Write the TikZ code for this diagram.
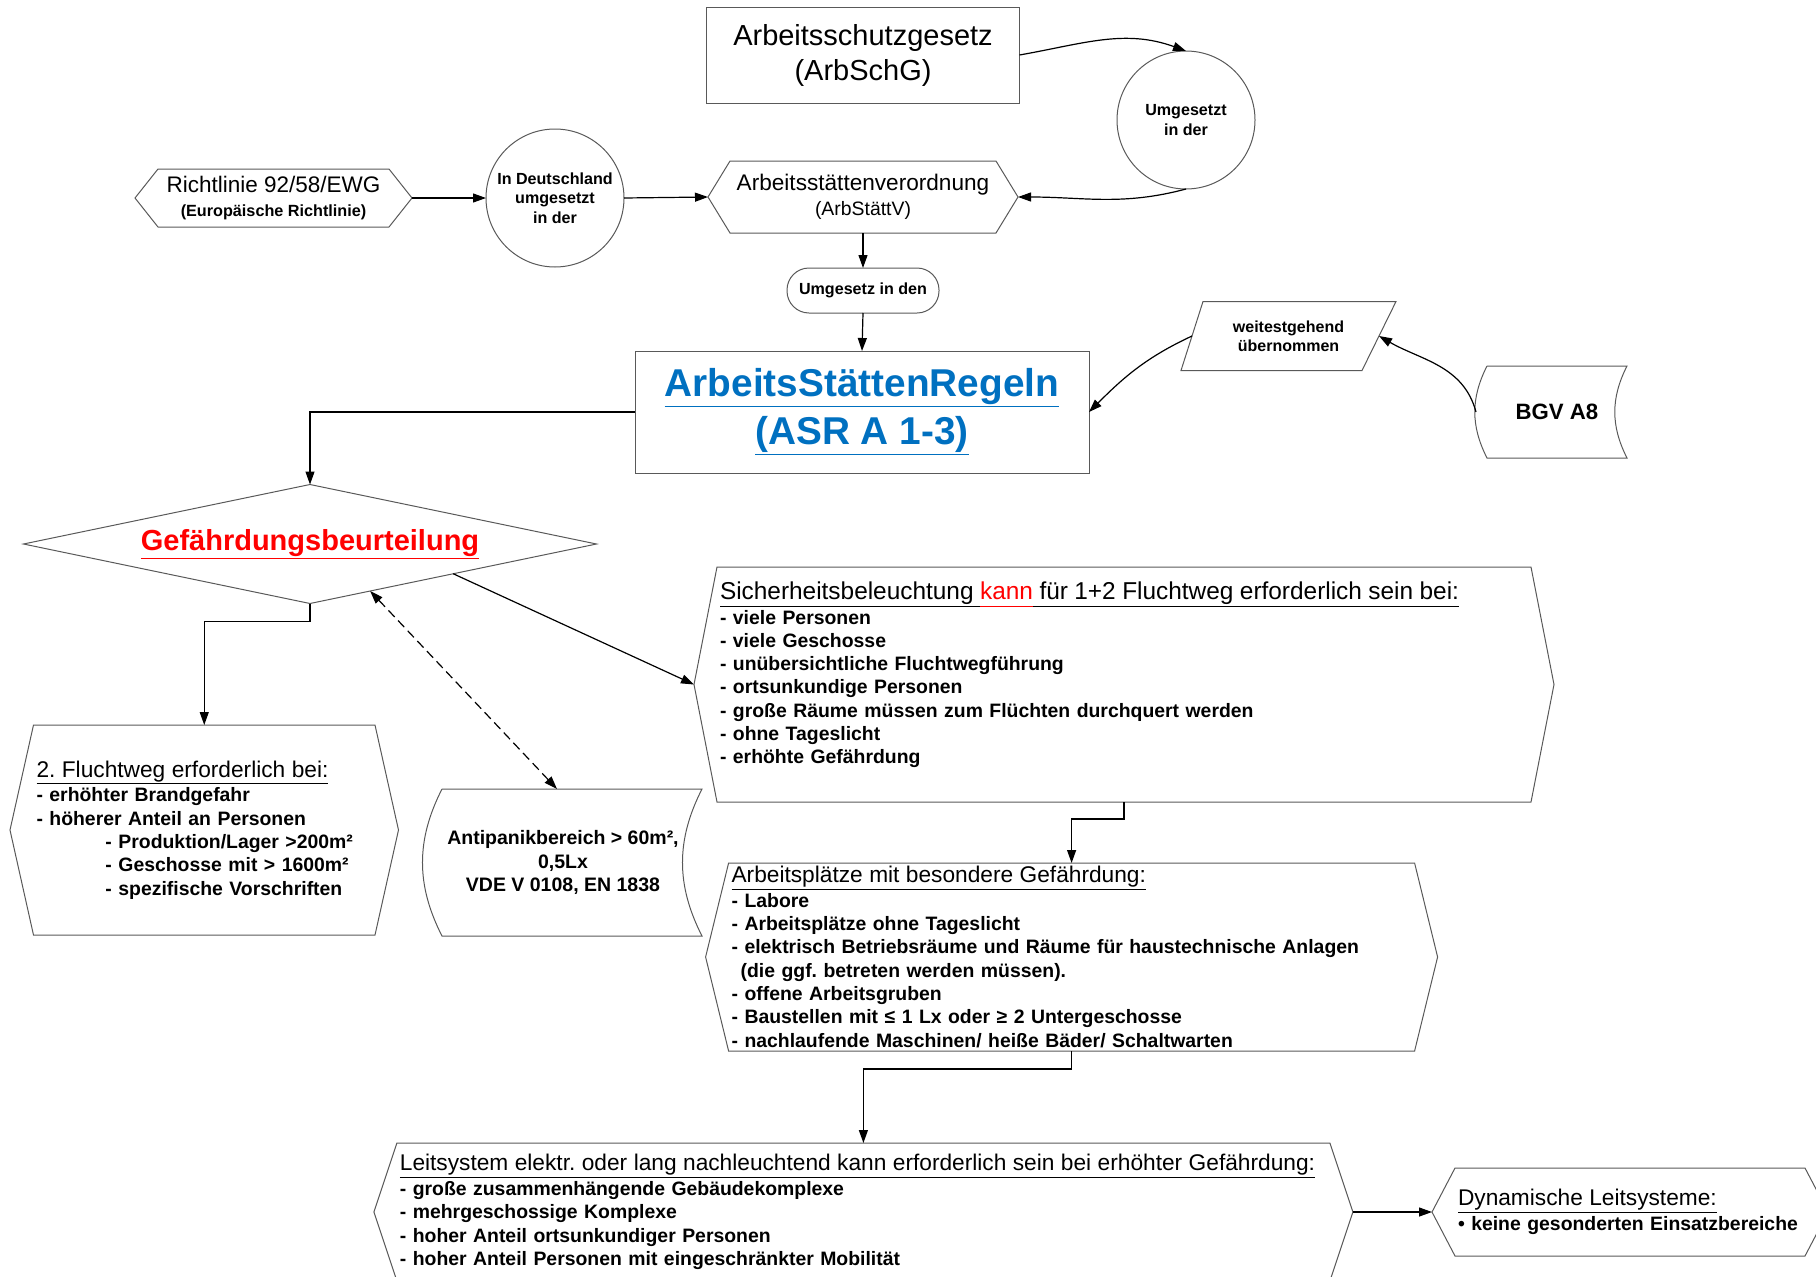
\documentclass[tikz,border=0pt]{standalone}
\usepackage{fontspec}
\setmainfont{Liberation Sans}
\usetikzlibrary{arrows.meta,shapes.geometric,calc}
\frenchspacing

\definecolor{asrblue}{HTML}{0070C0}
\newcommand\listfont{\bfseries\fontsize{19.4}{23.3}\selectfont\lineskiplimit=-30pt\relax}
\newcommand\ul[1]{\underline{\vphantom{g}#1}}
\newcommand\listhead[2][22.7]{{\mdseries\fontsize{#1}{23.3}\selectfont\ul{#2}}\\[1.2pt]}
\tikzset{
  boxnode/.style = {draw=black!65, line width=1pt, inner sep=0pt,
                    outer sep=0pt, align=center},
  textnode/.style = {inner sep=0pt, outer sep=0pt, align=center},
  listnode/.style = {inner xsep=3pt, inner ysep=0pt, outer sep=0pt,
                     align=left, font=\listfont},
  borderline/.style = {draw=black!65, line width=1pt},
  flowarrow/.style = {-{Triangle[length=13pt,width=9pt]}, line width=1.2pt}
}
\newcommand\hexframe[2]{%
  \coordinate (#1-l) at ([xshift=-#2]#1.west);
  \coordinate (#1-r) at ([xshift=#2]#1.east);
  \draw[borderline] (#1.north west) -- (#1.north east) -- (#1-r)
    -- (#1.south east) -- (#1.south west) -- (#1-l) -- cycle;}
\newcommand\dataframe[2][0pt]{%
  \draw[borderline] ([xshift=#1]#2.north west) -- ([xshift=#1]#2.north east)
    to[bend right=27] ([xshift=#1]#2.south east) -- ([xshift=#1]#2.south west)
    to[bend left=27] ([xshift=#1]#2.north west);}

\begin{document}
\begin{tikzpicture}[x=1pt,y=1pt]
  \useasboundingbox (0,0) rectangle (1816,-1277);

  \node[boxnode, minimum width=313pt, minimum height=96pt,
        font=\fontsize{29}{35}\selectfont] (asg) at (863,-55)
        {Arbeitsschutzgesetz\\(ArbSchG)};
  \node[boxnode, circle, minimum size=138pt,
        font=\bfseries\fontsize{16.1}{19.6}\selectfont] (umgs) at (1186,-120)
        {Umgesetzt\\in der};

  \node[textnode, minimum width=231pt, minimum height=58pt,
        font=\fontsize{22.5}{23.5}\selectfont] (rl) at (273.5,-198)
        {Richtlinie 92/58/EWG\\{\bfseries\fontsize{16.2}{23.5}\selectfont(Europäische Richtlinie)}};
  \hexframe{rl}{23pt}
  \node[boxnode, circle, minimum size=138pt,
        font=\bfseries\fontsize{16.1}{19.6}\selectfont] (indt) at (555,-198)
        {In Deutschland\\umgesetzt\\in der};
  \node[textnode, minimum width=266pt, minimum height=72pt,
        font=\fontsize{22.6}{24.5}\selectfont] (asv) at (863,-197)
        {Arbeitsstättenverordnung\\{\fontsize{19.4}{24.5}\selectfont(ArbStättV)}};
  \hexframe{asv}{22pt}

  \node[boxnode, rounded corners=22pt, minimum width=152pt, minimum height=45pt,
        font=\bfseries\fontsize{16.1}{19}\selectfont] (udn) at (863,-290.5)
        {Umgesetz in den};
  \node[boxnode, minimum width=454pt, minimum height=122pt, text=asrblue,
        font=\bfseries\fontsize{38.8}{48}\selectfont] (asr) at (862,-412)
        {\ul{ArbeitsStättenRegeln}\\\ul{(ASR A 1-3)}};

  \node[textnode, minimum width=215pt, minimum height=69pt,
        font=\bfseries\fontsize{16}{19.3}\selectfont] (weit) at (1288.5,-336)
        {weitestgehend\\übernommen};
  \draw[borderline] ([xshift=22pt]weit.north west) -- (weit.north east)
    -- ([xshift=-34pt]weit.south east) -- (weit.south west) -- cycle;
  \coordinate (weit-l) at ([xshift=11pt]weit.west);
  \coordinate (weit-r) at ([xshift=-17pt]weit.east);
  \node[textnode, minimum width=140pt, minimum height=92pt,
        font=\bfseries\fontsize{22.2}{24}\selectfont] (bgv) at (1557,-412)
        {BGV A8};
  \dataframe{bgv}
  \coordinate (bgv-l) at ([xshift=-11pt]bgv.west);

  \node[boxnode, diamond, aspect=4.8, minimum width=573pt, minimum height=119pt,
        text=red, font=\bfseries\fontsize{29}{32}\selectfont] (gb) at (310,-544)
        {\ul{Gefährdungsbeurteilung}};
  \coordinate (gb-a) at ($(gb.south)!0.21!(gb.east)$);
  \coordinate (gb-b) at ($(gb.south)!0.5!(gb.east)$);

  \node[listnode, text width=335.5pt, minimum height=210pt] (fw) at (204.25,-830)
    {\listhead{2. Fluchtweg erforderlich bei:}
     - erhöhter Brandgefahr\\
     - höherer Anteil an Personen\\
     \hspace*{69pt}- Produktion/Lager >200m²\\
     \hspace*{69pt}- Geschosse mit > 1600m²\\
     \hspace*{69pt}- spezifische Vorschriften};
  \hexframe{fw}{23.5pt}

  \node[textnode, minimum width=260pt, minimum height=147pt,
        font=\bfseries\fontsize{19.5}{23.4}\selectfont] (anti) at (563,-862.5)
        {Antipanikbereich > 60m²,\\0,5Lx\\VDE V 0108, EN 1838};
  \dataframe[9pt]{anti}

  \node[listnode, text width=808pt, minimum height=235pt] (sich) at (1124,-684.5)
    {{\mdseries\fontsize{24.4}{23.3}\selectfont\ul{Sicherheitsbeleuchtung }\textcolor{red}{\ul{kann}}\ul{ für 1+2 Fluchtweg erforderlich sein bei:}}\\[1.2pt]
     - viele Personen\\
     - viele Geschosse\\
     - unübersichtliche Fluchtwegführung\\
     - ortsunkundige Personen\\
     - große Räume müssen zum Flüchten durchquert werden\\
     - ohne Tageslicht\\
     - erhöhte Gefährdung\\
     \mbox{}};
  \hexframe{sich}{23pt}

  \node[listnode, text width=680pt, minimum height=188pt] (ap) at (1071.6,-957)
    {\listhead{Arbeitsplätze mit besondere Gefährdung:}
     - Labore\\
     - Arbeitsplätze ohne Tageslicht\\
     - elektrisch Betriebsräume und Räume für haustechnische Anlagen\\
     \hspace*{9pt}(die ggf. betreten werden müssen).\\
     - offene Arbeitsgruben\\
     - Baustellen mit ≤ 1 Lx oder ≥ 2 Untergeschosse\\
     - nachlaufende Maschinen/ heiße Bäder/ Schaltwarten};
  \hexframe{ap}{23pt}

  \node[listnode, text width=927pt, minimum height=138pt] (ls) at (863.4,-1212)
    {\listhead{Leitsystem elektr. oder lang nachleuchtend kann erforderlich sein bei erhöhter Gefährdung:}
     - große zusammenhängende Gebäudekomplexe\\
     - mehrgeschossige Komplexe\\
     - hoher Anteil ortsunkundiger Personen\\
     - hoher Anteil Personen mit eingeschränkter Mobilität};
  \hexframe{ls}{23pt}
  \node[listnode, text width=344pt, minimum height=88pt] (dyn) at (1630,-1212)
    {\listhead{Dynamische Leitsysteme:}
     • keine gesonderten Einsatzbereiche};
  \hexframe{dyn}{23pt}

  \draw[flowarrow] (rl-r) -- (indt.west);
  \draw[flowarrow] (indt.east) -- (asv-l);
  \draw[flowarrow] (asg.east) to[out=10,in=160] (umgs.north);
  \draw[flowarrow] (umgs.south) to[out=195,in=0] (asv-r);
  \draw[flowarrow] (asv.south) -- (udn.north);
  \draw[flowarrow] (udn.south) -- (asr.north);
  \draw[flowarrow] (weit-l) to[out=205,in=45] (asr.east);
  \draw[flowarrow] (bgv-l) to[out=105,in=-30] (weit-r);
  \draw[flowarrow] (asr.west) -| (gb.north);
  \draw[flowarrow] (gb.south) -- ++(0,-18) -| (fw.north);
  \draw[flowarrow, dash pattern=on 9pt off 5pt,
        {Triangle[length=13pt,width=9pt]}-{Triangle[length=13pt,width=9pt]}]
        (gb-a) -- ([xshift=-6pt]anti.north);
  \draw[flowarrow] (gb-b) -- (sich-l);
  \draw[flowarrow] (sich.south) -- ++(0,-17) -| (ap.north);
  \draw[flowarrow] (ap.south) -- ++(0,-18) -| (ls.north);
  \draw[flowarrow] (ls-r) -- (dyn-l);
\end{tikzpicture}
\end{document}
